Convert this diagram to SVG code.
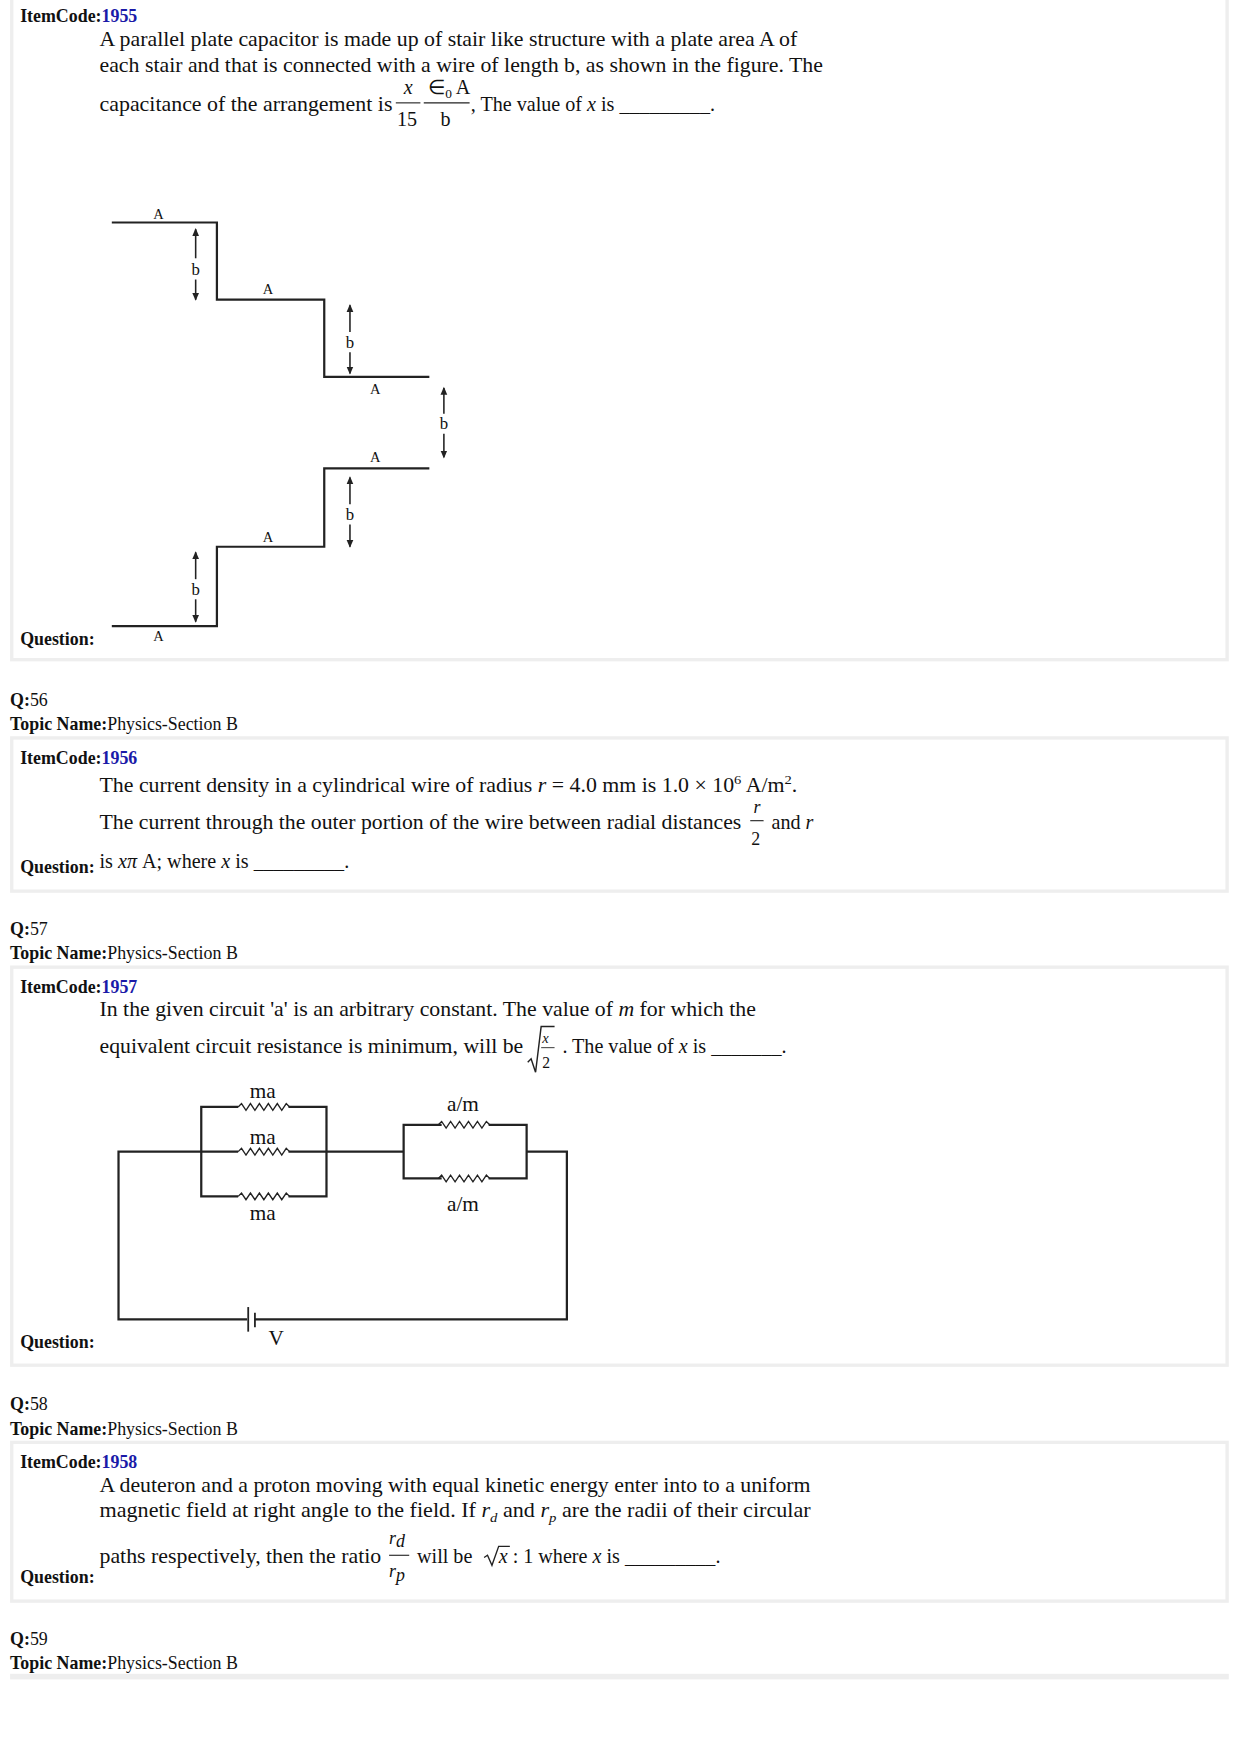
<svg xmlns="http://www.w3.org/2000/svg" width="1240" height="1755" viewBox="0 0 1240 1755">
<style>
text{font-family:"Liberation Serif","Times New Roman",serif;fill:#111}
.b{font-weight:bold;font-size:16px}
.c{fill:#1a1aa8;font-weight:bold;font-size:16px}
.t{font-size:18px}
.s{font-size:13px}
.bl{font-size:15px}
.f{font-size:16px}
.m{font-size:19px}
.w{stroke:#222;stroke-width:2;fill:none}
.a{stroke:#222;stroke-width:1.4;fill:none;marker-end:url(#ah)}
.panel{fill:#fff;stroke:#eee;stroke-width:3}
</style>
<defs>
<marker id="ah" markerWidth="8" markerHeight="8" refX="6" refY="4" orient="auto" markerUnits="userSpaceOnUse"><path d="M0,1 L7,4 L0,7 Z" fill="#222"/></marker>
<path id="zz" d="M0,0 l3,-3 l4,6 l4,-6 l4,6 l4,-6 l4,6 l4,-6 l4,6 l4,-6 l4,6 l4,-6 l3,3" fill="none" stroke="#222" stroke-width="1.2"/>
</defs>
<rect width="1240" height="1755" fill="#fff"/>
<g transform="scale(1.1181)">
<g id="panel1">
<rect class="panel" x="10.5" y="-2" width="1087" height="592"/>
<text x="18" y="20" class="b">ItemCode:<tspan class="c">1955</tspan></text>
<text x="89" y="41" class="t" textLength="624" lengthAdjust="spacingAndGlyphs">A parallel plate capacitor is made up of stair like structure with a plate area A of</text>
<text x="89" y="64" class="t" textLength="647" lengthAdjust="spacingAndGlyphs">each stair and that is connected with a wire of length b, as shown in the figure. The</text>
<text x="89" y="99" class="t" textLength="262" lengthAdjust="spacingAndGlyphs">capacitance of the arrangement is</text>
<text x="361" y="84" class="t" font-style="italic">x</text>
<text x="355" y="113" class="t">15</text>
<line x1="354" y1="92" x2="376" y2="92" stroke="#222" stroke-width="1"/>
<text x="383" y="84" class="t">∈<tspan font-size="12" dy="4">0</tspan><tspan dy="-4"> A</tspan></text>
<text x="394" y="113" class="t">b</text>
<line x1="379" y1="92" x2="420" y2="92" stroke="#222" stroke-width="1"/>
<text x="421" y="99" class="t">, The value of <tspan font-style="italic">x</tspan> is _________.</text>
<text x="18" y="577" class="b">Question:</text>
</g>
<g id="staircase">
<path class="w" d="M100,199 H194 V268 H290 V337 H384"/>
<path class="w" d="M100,560 H194 V489 H290 V419 H384"/>
<g class="s">
<text x="137" y="196">A</text><text x="235" y="263">A</text><text x="331" y="352">A</text>
<text x="331" y="413">A</text><text x="235" y="485">A</text><text x="137" y="573">A</text>
</g>
<g class="bl" text-anchor="middle">
<text x="175" y="246">b</text><text x="313" y="311">b</text><text x="397" y="384">b</text>
<text x="313" y="465">b</text><text x="175" y="532">b</text>
</g>
<path class="a" d="M175,231 V205"/><path class="a" d="M175,250 V268"/>
<path class="a" d="M313,297 V273"/><path class="a" d="M313,315 V334"/>
<path class="a" d="M397,370 V347"/><path class="a" d="M397,388 V409"/>
<path class="a" d="M313,451 V427"/><path class="a" d="M313,469 V489"/>
<path class="a" d="M175,518 V494"/><path class="a" d="M175,536 V556"/>
</g>
<text x="9" y="631" class="b">Q:<tspan font-weight="normal">56</tspan></text>
<text x="9" y="653" class="b">Topic Name:<tspan font-weight="normal">Physics-Section B</tspan></text>
<g id="panel2">
<rect class="panel" x="10.5" y="660" width="1087" height="137"/>
<text x="18" y="683" class="b">ItemCode:<tspan class="c">1956</tspan></text>
<text x="89" y="708" class="t" textLength="624" lengthAdjust="spacingAndGlyphs">The current density in a cylindrical wire of radius <tspan font-style="italic">r</tspan> = 4.0 mm is 1.0 × 10<tspan font-size="12" dy="-7">6</tspan><tspan dy="7"> A/m</tspan><tspan font-size="12" dy="-7">2</tspan><tspan dy="7">.</tspan></text>
<text x="89" y="741" class="t" textLength="574" lengthAdjust="spacingAndGlyphs">The current through the outer portion of the wire between radial distances</text>
<text x="674" y="727" class="f" font-style="italic">r</text>
<line x1="671" y1="734" x2="683" y2="734" stroke="#222" stroke-width="1"/>
<text x="672" y="756" class="f">2</text>
<text x="690" y="741" class="t">and <tspan font-style="italic">r</tspan></text>
<text x="18" y="781" class="b">Question:</text>
<text x="89" y="776" class="t">is <tspan font-style="italic">xπ</tspan> A; where <tspan font-style="italic">x</tspan> is _________.</text>
</g>
<text x="9" y="836" class="b">Q:<tspan font-weight="normal">57</tspan></text>
<text x="9" y="858" class="b">Topic Name:<tspan font-weight="normal">Physics-Section B</tspan></text>
<g id="panel3">
<rect class="panel" x="10.5" y="865" width="1087" height="356"/>
<text x="18" y="888" class="b">ItemCode:<tspan class="c">1957</tspan></text>
<text x="89" y="909" class="t" textLength="587" lengthAdjust="spacingAndGlyphs">In the given circuit 'a' is an arbitrary constant. The value of <tspan font-style="italic">m</tspan> for which the</text>
<text x="89" y="942" class="t" textLength="379" lengthAdjust="spacingAndGlyphs">equivalent circuit resistance is minimum, will be</text>
<path d="M472,950 l3,-3 l4,12 l5,-41 h12" fill="none" stroke="#222" stroke-width="1.3"/>
<text x="485" y="933" font-size="13" font-style="italic">x</text>
<line x1="484" y1="937" x2="496" y2="937" stroke="#222" stroke-width="0.8"/>
<text x="485" y="955" font-size="14">2</text>
<text x="503" y="942" class="t">. The value of  <tspan font-style="italic">x</tspan> is _______.</text>
<text x="18" y="1206" class="b">Question:</text>
<text x="247" y="1203" class="m" text-anchor="middle">V</text>
</g>
<g id="circuit">
<path class="w" stroke-width="1.6" d="M213,990 H180 V1070 H213 M258,1070 H292 V990 H258 M213,1030 H106 V1180 H221 M228,1180 H507 V1030 H471 V1054 H437 M395,1054 H361 V1006 H395 M437,1006 H471 V1030 M361,1030 H258"/>
<line x1="222" y1="1169" x2="222" y2="1191" stroke="#222" stroke-width="1.6"/>
<line x1="228" y1="1174" x2="228" y2="1187" stroke="#222" stroke-width="1.6"/>
<use href="#zz" x="213" y="990"/>
<use href="#zz" x="213" y="1030"/>
<use href="#zz" x="213" y="1070"/>
<use href="#zz" x="392" y="1006"/>
<use href="#zz" x="392" y="1054"/>
<g class="m" text-anchor="middle">
<text x="235" y="982">ma</text><text x="235" y="1023">ma</text><text x="235" y="1091">ma</text>
<text x="414" y="994">a/m</text><text x="414" y="1083">a/m</text>
</g>
</g>
<text x="9" y="1261" class="b">Q:<tspan font-weight="normal">58</tspan></text>
<text x="9" y="1283" class="b">Topic Name:<tspan font-weight="normal">Physics-Section B</tspan></text>
<g id="panel4">
<rect class="panel" x="10.5" y="1290" width="1087" height="142"/>
<text x="18" y="1313" class="b">ItemCode:<tspan class="c">1958</tspan></text>
<text x="89" y="1334" class="t" textLength="636" lengthAdjust="spacingAndGlyphs">A deuteron and a proton moving with equal kinetic energy enter into to a uniform</text>
<text x="89" y="1357" class="t" textLength="636" lengthAdjust="spacingAndGlyphs">magnetic field at right angle to the field.  If <tspan font-style="italic">r</tspan><tspan font-size="12" font-style="italic" dy="4">d</tspan><tspan dy="-4"> and </tspan><tspan font-style="italic">r</tspan><tspan font-size="12" font-style="italic" dy="4">p</tspan><tspan dy="-4"> are the radii of their circular</tspan></text>
<text x="89" y="1398" class="t" textLength="252" lengthAdjust="spacingAndGlyphs">paths respectively, then the ratio</text>
<text x="348" y="1381" class="f" font-style="italic">r<tspan dy="3">d</tspan></text>
<line x1="348" y1="1391" x2="366" y2="1391" stroke="#222" stroke-width="1"/>
<text x="348" y="1410" class="f" font-style="italic">r<tspan dy="4">p</tspan></text>
<text x="373" y="1398" class="t">will be </text>
<path d="M433,1393 l3,-2 l4,9 l6,-17 h10" fill="none" stroke="#222" stroke-width="1.2"/>
<text x="446" y="1398" class="t"><tspan font-style="italic">x</tspan> : 1  where <tspan font-style="italic">x</tspan> is _________.</text>
<text x="18" y="1416" class="b">Question:</text>
</g>
<text x="9" y="1471" class="b">Q:<tspan font-weight="normal">59</tspan></text>
<text x="9" y="1493" class="b">Topic Name:<tspan font-weight="normal">Physics-Section B</tspan></text>
<rect x="9" y="1497" width="1090" height="5" fill="#eee"/>
</g>
</svg>
